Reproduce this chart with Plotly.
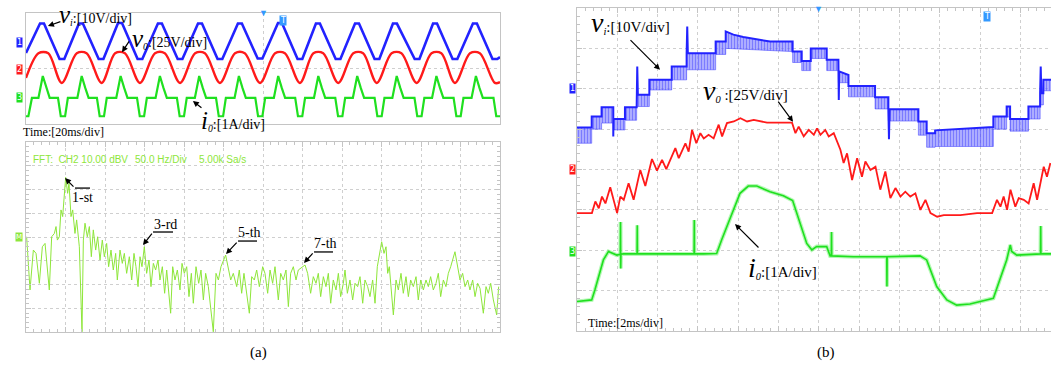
import plotly.graph_objects as go

W, H = 1051, 365

# ---------------- (a) top: time traces, x in ms (20 ms/div), y in div ----------------
vi_a_t = [0.0, 7.1, 9.1, 17.0, 19.4, 26.8, 28.8, 36.8, 39.2, 46.6, 48.6, 56.5, 58.9, 66.8, 68.8,
          76.8, 79.2, 87.1, 89.1, 97.0, 99.4, 107.3, 109.3, 117.3, 119.7, 127.6, 129.6, 137.5, 139.9,
          146.8, 148.8, 156.8, 159.2, 166.6, 168.6, 176.5, 178.9, 185.8, 187.8, 196.8, 199.2, 206.1,
          208.1, 216.0, 218.4, 226.3, 228.3, 236.2, 238.6, 240.0]
vi_a_v = [2.56, 3.62, 3.62, 2.34, 2.34, 3.62, 3.62, 2.34, 2.34, 3.64, 3.64, 2.34, 2.34, 3.62, 3.62,
          2.34, 2.34, 3.62, 3.62, 2.34, 2.34, 3.62, 3.62, 2.36, 2.36, 3.64, 3.64, 2.34, 2.34,
          3.62, 3.62, 2.34, 2.34, 3.62, 3.62, 2.34, 2.34, 3.62, 3.62, 2.34, 2.34, 3.62,
          3.62, 2.34, 2.34, 3.62, 3.62, 2.34, 2.34, 2.41]

vo_a_t = [0.0, 6.3, 11.3, 18.1, 25.7, 30.7, 38.3, 45.1, 50.1, 57.7, 65.3, 70.3, 78.0, 85.6, 90.6,
          98.2, 105.8, 110.8, 118.5, 126.1, 131.1, 138.7, 145.5, 150.5, 158.1, 165.7, 170.7, 177.6,
          185.1, 190.1, 197.8, 205.3, 210.3, 217.2, 224.8, 229.8, 237.4, 240.0]
vo_a_v = [1.66, 2.55, 2.55, 1.48, 2.55, 2.55, 1.48, 2.55, 2.55, 1.48, 2.55, 2.55, 1.48, 2.55, 2.55,
          1.48, 2.55, 2.55, 1.48, 2.55, 2.55, 1.48, 2.55, 2.55, 1.48, 2.55, 2.55, 1.48,
          2.55, 2.55, 1.48, 2.55, 2.55, 1.48, 2.55, 2.55, 1.48, 1.51]

io_a_t = [0.0, 1.2, 3.0,
          6.3, 8.5, 10.3, 12.0, 16.2, 17.6, 19.8, 21.2,
          26.0, 28.2, 30.0, 31.7, 35.9, 37.3, 39.5, 40.9,
          45.7, 47.9, 49.7, 51.4, 56.2, 57.6, 59.8, 61.2,
          65.6, 67.8, 69.6, 71.3, 76.4, 77.8, 80.0, 81.4,
          85.5, 87.7, 89.5, 91.2, 96.2, 97.6, 99.8, 101.2,
          105.6, 107.8, 109.6, 111.3, 116.1, 117.5, 119.7, 121.1,
          125.5, 127.7, 129.5, 131.2, 136.3, 137.7, 139.9, 141.3,
          145.8, 148.0, 149.8, 151.5, 156.6, 158.0, 160.2, 161.6,
          165.5, 167.7, 169.5, 171.2, 176.5, 177.9, 180.1, 181.5,
          185.5, 187.7, 189.5, 191.2, 196.7, 198.1, 200.3, 201.7,
          205.6, 207.8, 209.6, 211.3, 216.5, 217.9, 220.1, 221.5,
          225.6, 227.8, 229.6, 231.3, 236.7, 238.1, 240.0]
io_a_v = [0.28, 0.28, 0.94,
          0.94, 1.73, 1.30, 0.94, 0.94, 0.28, 0.28, 0.94,
          0.94, 1.73, 1.30, 0.94, 0.94, 0.28, 0.28, 0.94,
          0.94, 1.73, 1.30, 0.94, 0.94, 0.28, 0.28, 0.94,
          0.94, 1.73, 1.30, 0.94, 0.94, 0.28, 0.28, 0.94,
          0.94, 1.73, 1.30, 0.94, 0.94, 0.28, 0.28, 0.94,
          0.94, 1.73, 1.30, 0.94, 0.94, 0.28, 0.28, 0.94,
          0.94, 1.73, 1.30, 0.94, 0.94, 0.28, 0.28, 0.94,
          0.94, 1.73, 1.30, 0.94, 0.94, 0.28, 0.28, 0.94,
          0.94, 1.73, 1.30, 0.94, 0.94, 0.28, 0.28, 0.94,
          0.94, 1.73, 1.30, 0.94, 0.94, 0.28, 0.28, 0.94,
          0.94, 1.73, 1.30, 0.94, 0.94, 0.28, 0.28, 0.94,
          0.94, 1.73, 1.30, 0.94, 0.94, 0.28, 0.28]

# ---------------- (a) bottom: FFT of CH2, Hz vs dBV ----------------
fft_hz = [0.8, 5.1, 9.3, 12.7, 16.9, 20.7, 24.1, 29.5, 32.5, 35.9,
          38.0, 39.7, 42.2, 44.3, 46.4, 50.2, 52.7, 54.4, 57.0, 59.1,
          62.0, 64.1, 67.5, 70.9, 72.6, 74.7, 77.6, 80.2, 82.7, 85.2,
          88.2, 90.7, 93.7, 96.6, 99.2, 102.1, 104.6, 107.6, 110.5, 113.5,
          115.6, 119.0, 121.9, 124.5, 127.4, 130.8, 133.8, 136.7, 139.2, 141.8,
          144.3, 146.8, 149.8, 152.7, 155.7, 158.2, 161.2, 164.1, 167.1, 169.6,
          172.6, 175.5, 178.1, 183.1, 185.7, 188.6, 191.6, 194.9, 197.5, 200.4,
          203.4, 206.3, 209.3, 211.8, 215.2, 218.6, 221.5, 224.5, 227.4, 230.8,
          237.1, 240.5, 243.5, 246.8, 252.7, 256.1, 259.1, 262.4, 266.7, 270.0,
          273.0, 275.9, 282.7, 285.7, 289.0, 292.0, 295.4, 299.6, 302.5, 305.9,
          308.9, 312.2, 315.2, 319.4, 322.4, 325.7, 329.1, 332.1, 335.0, 338.4,
          341.8, 344.7, 353.2, 356.5, 360.3, 363.7, 367.1, 370.0, 373.0, 376.4,
          379.7, 382.7, 385.7, 389.0, 392.4, 395.4, 398.3, 401.7, 403.8, 406.8,
          410.1, 413.5, 416.5, 419.8, 422.8, 426.2, 429.1, 432.5, 435.4, 438.8,
          441.8, 444.7, 450.2, 453.2, 455.7, 457.8, 459.9, 465.0, 468.4, 471.3,
          474.7, 477.6, 481.0, 484.0, 486.9, 490.3, 493.7, 496.6, 499.6, 503.0,
          506.3, 509.3, 512.2, 515.6, 519.0, 521.9, 524.9, 528.3, 531.6, 534.6,
          537.6, 543.0, 546.0, 549.4, 552.7, 555.7, 559.1, 562.0, 565.4, 568.4,
          571.7, 574.7, 578.9, 582.3, 585.2, 588.2, 591.6, 595.8, 598.3]
fft_db = [0.1, -22.3, -5.5, -6.9, -19.5, -4.1, -2.7, -22.3, 0.1, 1.5,
          4.4, -1.3, 0.1, 11.4, 8.6, 25.1, 18.4, 22.6, 8.6, 11.4,
          1.5, 7.2, -4.1, -39.9, -1.3, 5.8, 0.1, 4.4, -8.3, 3.0,
          -5.5, 0.1, -9.7, -1.3, -8.3, -2.7, -12.5, -5.5, -13.9, -6.9,
          -18.1, -5.5, -11.1, -6.9, -15.3, -8.3, -18.1, -6.9, -12.5, -20.9,
          -8.3, -12.5, -4.1, -15.3, -9.7, -20.9, -11.1, -13.9, -9.7, -18.1,
          -12.5, -23.7, -13.9, -32.1, -12.5, -18.1, -13.9, -22.3, -11.1, -15.3,
          -12.5, -25.1, -15.3, -27.9, -12.5, -19.5, -13.9, -26.5, -15.3, -20.9,
          -39.9, -15.3, -18.1, -12.5, -7.6, -13.9, -18.1, -15.3, -20.9, -13.9,
          -23.7, -15.3, -32.1, -16.7, -18.1, -13.9, -20.9, -12.5, -15.3, -23.7,
          -13.9, -19.5, -12.5, -26.5, -15.3, -18.1, -13.9, -29.3, -15.3, -12.5,
          -18.1, -13.9, -11.8, -15.3, -23.7, -16.7, -19.5, -15.3, -25.1, -16.7,
          -20.9, -15.3, -27.9, -18.1, -22.3, -15.3, -25.1, -19.5, -13.9, -23.7,
          -18.1, -26.5, -19.5, -20.9, -16.7, -27.9, -18.1, -20.9, -25.1, -18.1,
          -27.9, -12.5, -2.0, -6.9, -4.1, -15.3, -12.5, -32.8, -18.1, -22.3,
          -15.3, -23.7, -16.7, -25.1, -18.1, -20.9, -16.7, -26.5, -18.1, -22.3,
          -18.1, -20.9, -16.7, -22.3, -19.5, -15.3, -25.1, -18.1, -20.9, -15.3,
          -12.5, -6.2, -12.5, -18.1, -15.3, -20.9, -18.1, -22.3, -18.1, -25.1,
          -19.5, -21.6, -32.1, -20.9, -23.7, -19.5, -26.5, -32.8, -20.9]

# ---------------- (b): zoomed time traces, x in ms (2 ms/div), y in div ----------------
vi_b_t = [0.00, 0.73, 0.73, 1.22, 1.22, 1.80, 1.80, 1.81, 2.38, 2.38, 2.96, 2.96, 2.99, 3.02,
          3.59, 3.59, 4.70, 4.70, 5.44, 5.44, 5.47, 5.50, 6.88, 6.88, 7.38, 7.38, 7.76, 8.25,
          8.92, 9.58, 10.70, 10.70, 11.15, 11.15, 11.60, 11.60, 12.39, 12.39, 12.97, 12.97,
          12.99, 13.01, 13.47, 13.47, 14.79, 14.79, 15.45, 15.45, 15.48, 15.51, 16.94, 16.94,
          17.35, 17.35, 17.77, 17.77, 18.68, 19.50, 20.66, 20.66, 21.32, 21.32, 21.49, 21.49,
          22.40, 22.40, 22.98, 22.98, 23.01, 23.04, 23.14, 23.14, 23.52]
vi_b_v = [5.04, 5.04, 5.31, 5.31, 5.54, 5.54, 4.82, 5.25, 5.25, 5.54, 5.54, 5.85, 6.55, 5.85,
          5.85, 6.22, 6.22, 6.55, 6.55, 6.88, 7.54, 6.88, 6.88, 7.17, 7.17, 7.42, 7.34, 7.28,
          7.23, 7.17, 7.17, 6.92, 6.92, 6.69, 6.69, 7.00, 7.00, 6.72, 6.72, 6.43,
          5.72, 6.43, 6.34, 6.07, 6.07, 5.79, 5.79, 5.49, 4.75, 5.49, 5.49, 5.19,
          5.19, 4.90, 4.90, 4.97, 5.00, 5.02, 5.05, 5.31, 5.31, 5.56, 5.56, 5.25,
          5.25, 5.56, 5.56, 5.89, 6.55, 5.89, 5.89, 6.22, 6.22]
vi_b_lo_t = [0.0, 0.73, 0.73, 1.22, 1.22, 1.80, 1.80, 2.38, 2.38, 2.96, 2.96, 3.59, 3.59, 4.70,
             4.70, 5.44, 5.44, 6.88, 6.88, 7.38, 7.38, 10.70, 10.70, 11.15, 11.15, 11.60, 11.60,
             12.39, 12.39, 12.97, 12.97, 13.47, 13.47, 14.79, 14.79, 15.45, 15.45, 16.94, 16.94,
             17.35, 17.35, 17.77, 17.77, 20.66, 20.66, 21.32, 21.32, 21.49, 21.49, 22.40, 22.40,
             22.98, 22.98, 23.14, 23.14, 23.52]
vi_b_lo_v = [4.65, 4.65, 5.00, 5.00, 5.15, 5.15, 4.98, 4.98, 5.22, 5.22, 5.56, 5.56, 5.97, 5.97,
             6.22, 6.22, 6.47, 6.47, 6.85, 6.85, 7.00, 6.92, 6.65, 6.65, 6.45, 6.45, 6.75,
             6.75, 6.45, 6.45, 6.15, 6.15, 5.80, 5.80, 5.50, 5.50, 5.20, 5.20, 4.85,
             4.85, 4.55, 4.55, 4.57, 4.57, 5.00, 5.00, 5.30, 5.30, 4.95, 4.95, 5.25,
             5.25, 5.60, 5.60, 5.95, 5.95]

vo_b_t = [0.00, 0.74, 0.91, 1.08, 1.24, 1.41, 1.65, 1.82, 1.99, 2.15, 2.32, 2.56, 2.81, 3.14,
          3.39, 3.72, 3.97, 4.22, 4.43, 4.88, 5.05, 5.38, 5.54, 5.71, 5.92, 6.12, 6.29, 6.53,
          6.78, 7.03, 7.20, 7.44, 7.78, 8.11, 8.44, 8.77, 9.10, 9.43, 9.93, 10.67, 10.84, 11.00,
          11.25, 11.50, 11.75, 11.91, 12.08, 12.32, 12.49, 12.74, 13.07, 13.23, 13.40, 13.65,
          13.90, 14.14, 14.31, 14.56, 14.81, 15.05, 15.30, 15.55, 15.80, 16.05, 16.29, 16.54,
          16.79, 17.04, 17.29, 17.54, 17.87, 18.20, 19.02, 19.85, 20.60, 20.84, 21.01, 21.17,
          21.34, 21.51, 21.75, 21.92, 22.17, 22.41, 22.66, 22.83, 23.16, 23.32, 23.49]
vo_b_v = [2.92, 2.92, 3.21, 3.04, 3.33, 3.16, 3.56, 3.25, 2.92, 3.33, 3.25, 3.66, 3.25, 3.99,
          3.59, 4.26, 3.97, 4.24, 4.01, 4.53, 4.28, 4.65, 4.44, 4.98, 4.65, 4.90, 4.77, 4.86,
          4.77, 5.11, 4.82, 5.15, 5.19, 5.27, 5.19, 5.23, 5.19, 5.16, 5.16, 5.16, 4.90, 5.06,
          4.82, 4.98, 4.86, 5.02, 4.86, 4.98, 4.82, 4.90, 4.49, 4.16, 4.40, 3.74,
          4.28, 3.82, 4.20, 3.99, 4.07, 3.50, 3.95, 3.29, 3.54, 3.33, 3.45, 3.33,
          3.41, 3.00, 3.25, 2.92, 2.83, 2.87, 2.87, 2.92, 2.92, 3.25, 3.08, 3.33,
          3.00, 3.50, 3.08, 3.29, 3.25, 3.16, 3.66, 3.25, 4.07, 3.82, 4.16]

io_b_t = [0.00, 0.73, 0.89, 1.14, 1.31, 1.56, 1.97, 2.15, 2.16, 2.17, 2.18, 2.30, 2.96, 2.98,
          2.99, 3.00, 4.62, 5.81, 5.82, 5.83, 6.27, 6.93, 7.18, 7.43, 7.76, 8.09, 8.50, 8.92,
          9.58, 10.24, 10.70, 11.07, 11.40, 11.65, 11.89, 12.39, 12.56, 12.62, 12.63, 12.64,
          13.71, 15.37, 15.38, 15.39, 17.02, 17.35, 17.85, 18.35, 18.84, 19.50, 20.66, 20.99,
          21.32, 21.50, 21.57, 21.82, 22.81, 23.00, 23.01, 23.02, 23.52]
io_b_v = [0.73, 0.77, 1.02, 1.43, 1.76, 1.97, 1.88, 1.90, 2.70, 1.55, 1.90, 1.91, 1.91, 1.91,
          2.62, 1.91, 1.91, 1.91, 2.75, 1.91, 1.91, 1.92, 2.26, 2.59, 3.00, 3.41, 3.59, 3.59,
          3.45, 3.35, 3.23, 2.67, 2.17, 2.01, 2.09, 2.09, 1.86, 1.86, 2.45, 1.86,
          1.84, 1.84, 1.10, 1.84, 1.86, 1.76, 1.10, 0.77, 0.64, 0.67, 0.81, 1.26,
          1.76, 2.13, 1.97, 1.88, 1.91, 1.91, 2.60, 1.91, 1.91]

BLUE, RED, GREEN, FFTG = '#2222ff', '#ff1a1a', '#1fe01f', '#8ee63a'
SERIF = 'Liberation Serif'

fig = go.Figure()
sk = dict(hoverinfo='skip', showlegend=False, mode='lines')

# (a) top
fig.add_trace(go.Scatter(x=vi_a_t, y=vi_a_v, line=dict(color=BLUE, width=2.6), xaxis='x', yaxis='y', **sk))
fig.add_trace(go.Scatter(x=vo_a_t, y=vo_a_v, line=dict(color=RED, width=2.4, shape='spline', smoothing=0.9),
                         xaxis='x', yaxis='y', **sk))
fig.add_trace(go.Scatter(x=io_a_t, y=io_a_v, line=dict(color=GREEN, width=2.2), xaxis='x', yaxis='y', **sk))
# (a) bottom FFT
fig.add_trace(go.Scatter(x=fft_hz, y=fft_db, line=dict(color=FFTG, width=1), xaxis='x2', yaxis='y2', **sk))
# (b)
fig.add_trace(go.Scatter(x=vi_b_lo_t, y=vi_b_lo_v, line=dict(color='rgba(50,50,255,0.6)', width=0.8),
                         xaxis='x3', yaxis='y3', **sk))
fig.add_trace(go.Scatter(x=vi_b_t, y=vi_b_v, line=dict(color=BLUE, width=2), fill='tonexty',
                         fillcolor='rgba(90,90,255,0.45)',
                         fillpattern=dict(shape='|', fgcolor='#2a2aff', bgcolor='rgba(170,170,255,0.6)',
                                          size=3, solidity=0.6),
                         xaxis='x3', yaxis='y3', **sk))
fig.add_trace(go.Scatter(x=vo_b_t, y=vo_b_v, line=dict(color=RED, width=1.8), xaxis='x3', yaxis='y3', **sk))
fig.add_trace(go.Scatter(x=io_b_t, y=io_b_v, line=dict(color='rgba(90,240,90,0.45)', width=4),
                         xaxis='x3', yaxis='y3', **sk))
fig.add_trace(go.Scatter(x=io_b_t, y=io_b_v, line=dict(color=GREEN, width=1.6), xaxis='x3', yaxis='y3', **sk))

GRID = '#cfcfcf'
BORDER = '#c4c4c4'


def scope_axis(dom, rng, dtick, minor_dtick=None, grid=True, ticks=True, mirror=True, anchor=None):
    a = dict(domain=dom, range=rng, dtick=dtick, tick0=rng[0], showticklabels=False, zeroline=False,
             showgrid=grid, gridcolor=GRID, griddash='dot', gridwidth=1,
             showline=True, linecolor=BORDER, linewidth=1,
             mirror=('allticks' if ticks else True) if mirror else False,
             fixedrange=True, anchor=anchor)
    if ticks:
        a.update(ticks='inside', ticklen=5, tickcolor=BORDER, tickwidth=1)
        if minor_dtick:
            a['minor'] = dict(dtick=minor_dtick, ticks='inside', ticklen=3, tickcolor=BORDER, showgrid=False)
    else:
        a.update(ticks='')
    return a


fig.update_layout(
    width=W, height=H, margin=dict(l=0, r=0, t=0, b=0),
    paper_bgcolor='white', plot_bgcolor='white', showlegend=False,
    xaxis=scope_axis([26 / W, 500 / W], [0, 240], 120, grid=True, ticks=False, anchor='y'),
    yaxis=scope_axis([1 - 124 / H, 1 - 13 / H], [0, 4], 2, grid=True, ticks=False, anchor='x'),
    xaxis2=scope_axis([26 / W, 500 / W], [0, 600], 50, 10, anchor='y2'),
    yaxis2=scope_axis([1 - 332 / H, 1 - 142 / H], [-40, 40], 10, 2, anchor='x2'),
    xaxis3=scope_axis([577 / W, 1.0], [0, 23.52], 2, 0.4, anchor='y3'),
    yaxis3=scope_axis([1 - 331 / H, 1 - 8 / H], [0, 8], 1, 0.2, mirror=False, anchor='x3'),
)

ann = []


def text(t, x, y, size, xref='paper', yref='paper', xanchor='left', color='black', family=SERIF):
    ann.append(dict(text=t, x=x, y=y, xref=xref, yref=yref, showarrow=False, xanchor=xanchor,
                    yanchor='middle', font=dict(size=size, color=color, family=family)))


def arrow(hx, hy, tx, ty, xr, yr):
    ann.append(dict(text='', x=hx, y=hy, ax=tx, ay=ty, xref=xr, yref=yr, axref=xr, ayref=yr,
                    showarrow=True, arrowhead=2, arrowsize=1, arrowwidth=1.2, arrowcolor='black'))


def chan(label, x, y, yref, color, size=8):
    ann.append(dict(text=label, x=x, y=y, xref='paper', yref=yref, showarrow=False, xanchor='center',
                    yanchor='middle', bgcolor=color, borderpad=0,
                    font=dict(size=size, color='white', family='DejaVu Sans')))


def px(p):
    return p / W


def py(p):
    return 1 - p / H


BIG = '<span style="font-size:25px"><i>v</i></span>'
BIGI = '<span style="font-size:25px"><i>i</i></span>'

# (a) labels
text(BIG + '<sub><i>i</i></sub>:[10V/div]', px(57), py(15), 14)
arrow(11.1, 3.53, 18.2, 3.71, 'x', 'y')
text(BIG + '<sub><i>0</i></sub>:[25V/div]', px(130), py(38), 14)
arrow(48.6, 2.59, 52.7, 3.03, 'x', 'y')
text(BIGI + '<sub><i>0</i></sub>:[1A/div]', px(199), py(120), 14)
arrow(84.5, 0.83, 89.6, 0.54, 'x', 'y')
text('Time:[20ms/div]', px(21), py(132), 12)

chan('1', px(19), 2.95, 'y', BLUE)
chan('2', px(19), 1.98, 'y', RED)
chan('3', px(19), 0.94, 'y', GREEN)
ann.append(dict(text='▼', x=120, y=4, xref='x', yref='y', showarrow=False, yanchor='middle',
                font=dict(size=9, color='#3399ff')))
ann.append(dict(text='T', x=130, y=3.72, xref='x', yref='y', showarrow=False, bgcolor='#3399ff',
                borderpad=0, font=dict(size=8, color='white', family='DejaVu Sans')))

# FFT header and harmonic labels
nb = '\u00a0'
text('FFT:' + nb * 2 + 'CH2' + nb + '10.00 dBV', px(31), py(159), 10, color=FFTG, family='Liberation Sans')
text('50.0 Hz/Div', px(133), py(159), 10, color=FFTG, family='Liberation Sans')
text('5.00k Sa/s', px(197), py(159), 10, color=FFTG, family='Liberation Sans')
chan('M', px(19), 0, 'y2', FFTG, size=7)

shapes = []
for lab, (hx, hy, tx, ty, ux, lx, ly) in {
    '1-st': (49.4, 24.8, 62.0, 20.6, 81.0, 70.9, 16.8),
    '3-rd': (148.1, -3.4, 160.8, 2.1, 186.1, 177.2, 5.1),
    '5-th': (253.2, -7.2, 268.4, -1.7, 292.4, 283.5, 1.7),
    '7-th': (351.9, -10.9, 364.6, -6.3, 388.6, 379.7, -2.9),
}.items():
    arrow(hx, hy, tx, ty, 'x2', 'y2')
    shapes.append(dict(type='line', xref='x2', yref='y2', x0=tx, x1=ux, y0=ty, y1=ty,
                       line=dict(color='black', width=1.3)))
    text(lab, lx, ly, 14, xref='x2', yref='y2', xanchor='center')

# (b) labels
text('<span style="font-size:28px"><i>v</i></span><sub><i>i</i></sub>:[10V/div]', px(589), py(23), 15)
arrow(4.12, 6.47, 2.58, 7.24, 'x3', 'y3')
text('<span style="font-size:28px"><i>v</i></span><sub><i>0</i></sub> :[25V/div]', px(701), py(91), 15)
arrow(10.72, 5.18, 9.93, 5.72, 'x3', 'y3')
text('<span style="font-size:28px"><i>i</i></span><sub><i>0</i></sub>:[1A/div]', px(746), py(267), 15)
arrow(7.84, 2.65, 9.08, 2.03, 'x3', 'y3')
text('Time:[2ms/div]', px(586), py(323), 12)

chan('1', px(572), 6.0, 'y3', BLUE)
chan('2', px(572), 4.01, 'y3', RED)
chan('3', px(572), 1.98, 'y3', GREEN)
ann.append(dict(text='▼', x=12, y=8, xref='x3', yref='y3', showarrow=False, yanchor='middle',
                font=dict(size=9, color='#3399ff')))
ann.append(dict(text='T', x=20.33, y=7.78, xref='x3', yref='y3', showarrow=False, bgcolor='#3399ff',
                borderpad=0, font=dict(size=8, color='white', family='DejaVu Sans')))

# sub-captions
text('(a)', px(258), py(352), 15, xanchor='center')
text('(b)', px(826), py(352), 15, xanchor='center')

fig.update_layout(annotations=ann, shapes=shapes)
fig.write_html('out.html', config={'displayModeBar': False},
               post_script="document.body.style.margin='0px';document.body.style.overflow='hidden';")
